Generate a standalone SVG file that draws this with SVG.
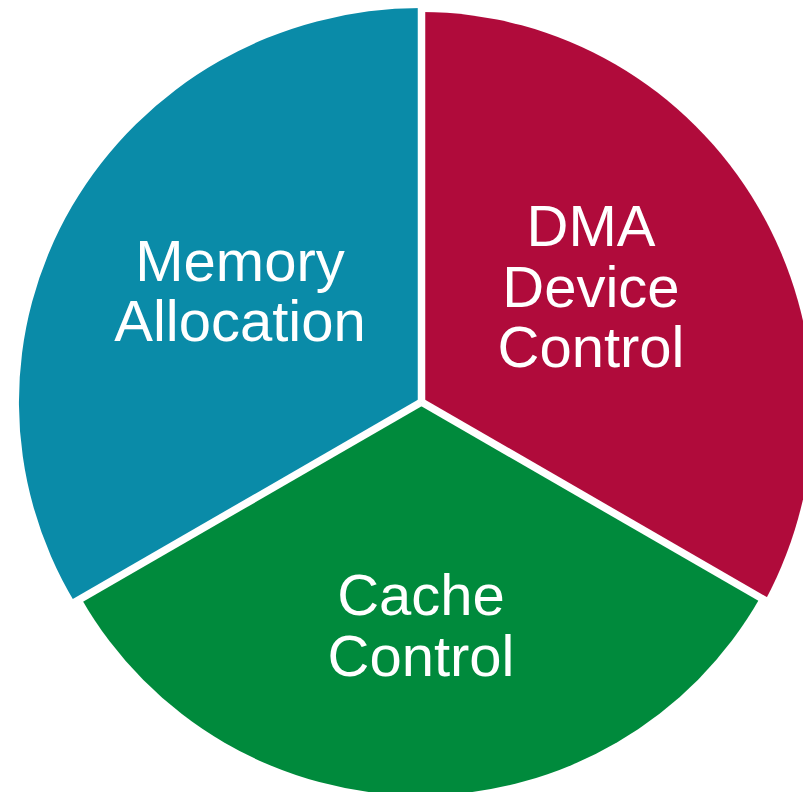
<svg xmlns="http://www.w3.org/2000/svg" width="803" height="792" viewBox="0 0 803 792">
  <style>
    .lbl { font-family: "Liberation Sans", Arial, sans-serif; font-size: 58px; fill: #ffffff; text-anchor: middle; }
    .sep { stroke: #ffffff; stroke-width: 7.5; fill: none; }
  </style>
  <rect width="803" height="792" fill="#ffffff"/>
  <g id="memory-allocation">
    <path d="M421.5 402 L421.5 8 A402 394 0 0 0 74.7 602.2 Z" fill="#0A8BA8"/>
    <text class="lbl" x="240" y="281">Memory</text>
    <text class="lbl" x="240" y="341">Allocation</text>
  </g>
  <g id="dma-device-control">
    <path d="M421.5 402 L421.5 12 A392 398 0 0 1 765.2 600.4 Z" fill="#B00B3B"/>
    <text class="lbl" x="591" y="246">DMA</text>
    <text class="lbl" x="591" y="307">Device</text>
    <text class="lbl" x="591" y="367">Control</text>
  </g>
  <g id="cache-control">
    <path d="M421.5 402 L760.2 597.6 A390.5 390.5 0 0 1 81.3 598.4 Z" fill="#008A3C"/>
    <text class="lbl" x="421" y="615">Cache</text>
    <text class="lbl" x="421" y="676">Control</text>
  </g>
  <g id="connectors">
    <line class="sep" x1="421.5" y1="402" x2="421.5" y2="-10"/>
    <line class="sep" x1="421.5" y1="402" x2="31.8" y2="627"/>
    <line class="sep" x1="421.5" y1="402" x2="811.2" y2="627"/>
  </g>
</svg>
